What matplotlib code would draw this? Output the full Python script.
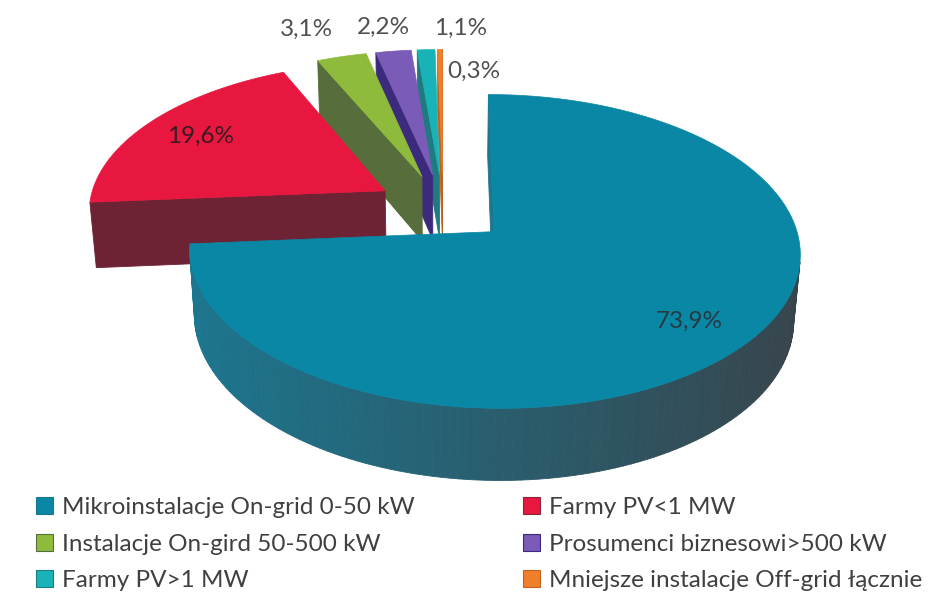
import numpy as np
import matplotlib.pyplot as plt
from matplotlib.patches import Polygon, Patch
from matplotlib.colors import to_rgb

plt.rcParams['font.family'] = ['Lato', 'DejaVu Sans']

categories = ["Mikroinstalacje On-grid 0-50 kW", "Farmy PV<1 MW",
              "Instalacje On-gird 50-500 kW", "Prosumenci biznesowi>500 kW",
              "Farmy PV>1 MW", "Mniejsze instalacje Off-grid łącznie"]
shares = [73.9, 19.6, 3.1, 2.2, 1.1, 0.3]
share_labels = ["73,9%", "19,6%", "3,1%", "2,2%", "1,1%", "0,3%"]

top_colors = ["#0a87a5", "#e8173f", "#8fbb3c", "#7a5bb8", "#19b3b7", "#f07f2b"]
wall_lit = ["#1b7790", "#84283b", "#586e3c", "#3c2b7c", "#1f7b80", "#c2621f"]
wall_dark = ["#38434a", "#5a1f2c", "#3f4f2b", "#2a1d5c", "#155458", "#8a4516"]

# view of the 3d pie
ELEV = np.radians(30)
DIST = 7.0
SCALE = 297.0
CX, CY = 443.0, 208.0
THICK = 0.26
EXPLODE = 0.23

cam = np.array([0.0, -DIST * np.cos(ELEV), DIST * np.sin(ELEV)])


def project(pts):
    pts = np.asarray(pts, dtype=float)
    X, Y, Z = pts[:, 0], pts[:, 1], pts[:, 2]
    zc = Y * np.cos(ELEV) - Z * np.sin(ELEV) + DIST
    yc = Y * np.sin(ELEV) + Z * np.cos(ELEV)
    return np.column_stack([CX + SCALE * X * DIST / zc, CY - SCALE * yc * DIST / zc])


def shade(i, nx):
    t = (1 + nx) / 2
    return tuple((1 - t) * np.array(to_rgb(wall_lit[i])) + t * np.array(to_rgb(wall_dark[i])))


fig = plt.figure(figsize=(9.4, 6.08), dpi=100)
ax = fig.add_axes([0, 0, 1, 1])
ax.set_xlim(0, 940)
ax.set_ylim(608, 0)
ax.axis("off")

fracs = np.array(shares) / sum(shares)
bounds = np.concatenate([[0], np.cumsum(fracs)]) * 2 * np.pi

slices = []
for i in range(len(shares)):
    a0, a1 = bounds[i], bounds[i + 1]
    mid = (a0 + a1) / 2
    ox, oy = EXPLODE * np.sin(mid), EXPLODE * np.cos(mid)
    n = max(3, int(np.degrees(a1 - a0) / 1.5))
    th = np.linspace(a0, a1, n)
    top = np.column_stack([ox + np.sin(th), oy + np.cos(th), np.zeros(n)])
    bot = top.copy()
    bot[:, 2] = -THICK
    c_top = np.array([ox, oy, 0.0])
    c_bot = np.array([ox, oy, -THICK])

    faces = []
    for k in range(n - 1):
        tm = (th[k] + th[k + 1]) / 2
        faces.append(([top[k], top[k + 1], bot[k + 1], bot[k]],
                      np.array([np.sin(tm), np.cos(tm), 0.0])))
    for a, sgn in ((a0, -1), (a1, 1)):
        e_top = np.array([ox + np.sin(a), oy + np.cos(a), 0.0])
        e_bot = e_top.copy()
        e_bot[2] = -THICK
        faces.append(([c_top, e_top, e_bot, c_bot],
                      sgn * np.array([np.cos(a), -np.sin(a), 0.0])))

    cen = np.array([ox + 0.5 * np.sin(mid), oy + 0.5 * np.cos(mid), 0.0])
    slices.append((np.linalg.norm(cen - cam), i, faces, np.vstack([c_top, top])))

# far slices first
for _, i, faces, top_poly in sorted(slices, key=lambda s: -s[0]):
    vis = []
    for quad, nrm in faces:
        q = np.array(quad)
        if np.dot(nrm, cam - q.mean(axis=0)) > 0:
            vis.append((np.linalg.norm(q.mean(axis=0) - cam), q, nrm))
    for _, q, nrm in sorted(vis, key=lambda v: -v[0]):
        c = shade(i, nrm[0])
        ax.add_patch(Polygon(project(q), closed=True, facecolor=c, edgecolor=c, linewidth=0.6))
    ax.add_patch(Polygon(project(top_poly), closed=True, facecolor=top_colors[i],
                         edgecolor=top_colors[i], linewidth=0.5))

# percentage labels
label_r = [0.8, 0.78, 1.0, 1.0, 1.0, 1.0]
label_dxy = [(0, 0), (0, 0), (-35, -27), (-10, -24), (35, -21), (34, 22)]
label_col = ["#263a42", "#3a1a22", "#505050", "#505050", "#505050", "#505050"]
for i in range(len(shares)):
    mid = (bounds[i] + bounds[i + 1]) / 2
    r = EXPLODE + label_r[i]
    px, py = project([[r * np.sin(mid), r * np.cos(mid), 0.0]])[0]
    ax.text(px + label_dxy[i][0], py + label_dxy[i][1], share_labels[i], fontsize=17.5,
            color=label_col[i], ha="center", va="center")

# legend, two columns
handles = [Patch(facecolor=top_colors[i], edgecolor=wall_lit[i], linewidth=0.8)
           for i in range(len(categories))]
leg_kw = dict(frameon=False, fontsize=17.5, handlelength=0.7, handleheight=0.7,
              handletextpad=0.35, labelspacing=0.64, labelcolor="#404040",
              borderaxespad=0, borderpad=0)
fig.legend([handles[0], handles[2], handles[4]],
           [categories[0], categories[2], categories[4]],
           loc="upper left", bbox_to_anchor=(36 / 940, 1 - 497 / 608), **leg_kw)
fig.legend([handles[1], handles[3], handles[5]],
           [categories[1], categories[3], categories[5]],
           loc="upper left", bbox_to_anchor=(523 / 940, 1 - 497 / 608), **leg_kw)

fig.savefig("out.png", dpi=100)
